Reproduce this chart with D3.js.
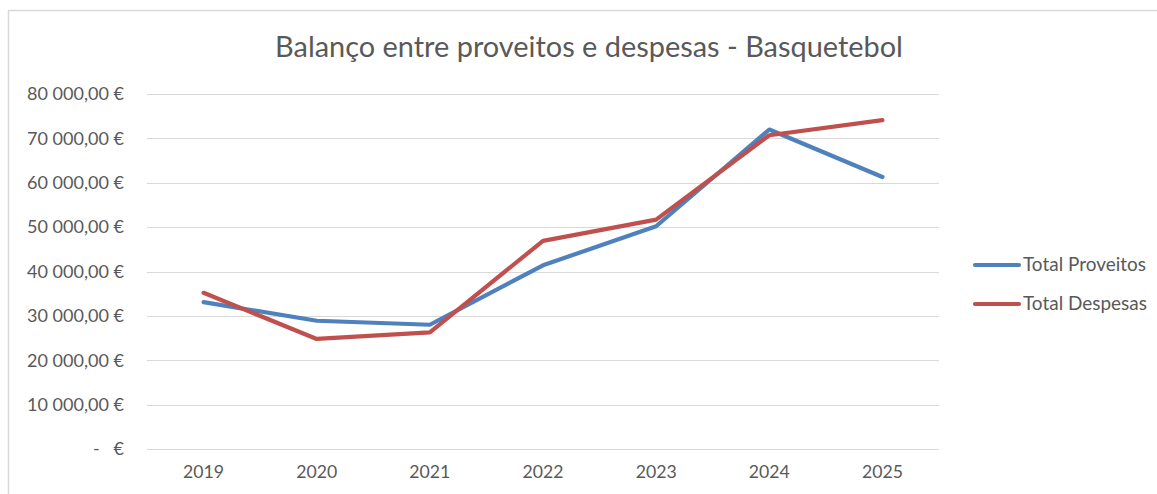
<!DOCTYPE html>
<html><head><meta charset="utf-8">
<script src="https://cdn.jsdelivr.net/npm/d3@7"></script>
<style>html,body{margin:0;padding:0;background:#fff;overflow:hidden}text{font-family:"Lato","Open Sans",sans-serif;fill:#595959}</style>
</head><body><svg id="c" width="1157" height="494"></svg>
<script>
const years = ["2019","2020","2021","2022","2023","2024","2025"];
const proveitos = [33100, 28900, 28000, 41400, 50200, 72000, 61300];
const despesas = [35200, 24800, 26300, 46900, 51700, 70700, 74100];
const yTicks = [0,10000,20000,30000,40000,50000,60000,70000,80000];
const seriesNames = ["Total Proveitos","Total Despesas"];
const colors = ["#4f81bd","#c0504d"];
const title = "Balanço entre proveitos e despesas - Basquetebol";

const svg = d3.select("#c");
svg.append("rect").attr("x",8.5).attr("y",10.5).attr("width",1170).attr("height",500)
  .attr("fill","#fff").attr("stroke","#d9d9d9").attr("stroke-width",1.5);

const x = d3.scaleBand().domain(years).range([147,939]);
const y = d3.scaleLinear().domain([0,80000]).range([449,94]);

const fmt = v => v===0 ? "-   €" : d3.format(",.2f")(v).replace(/,/g," ").replace(".",",")+" €";

function fitSize(sample, target, base){
  const t = svg.append("text").style("font-size",base+"px").text(sample);
  const w = t.node().getComputedTextLength(); t.remove();
  return (base*target/w).toFixed(2)+"px";
}

svg.selectAll(".grid").data(yTicks).join("line")
  .attr("x1",147).attr("x2",939)
  .attr("y1",d=>Math.round(y(d))+0.5).attr("y2",d=>Math.round(y(d))+0.5)
  .attr("stroke","#d9d9d9").attr("stroke-width",1.2);

const ySize = fitSize("80 000,00 €", 97, 16);
const yAxis = d3.axisLeft(y).tickValues(yTicks).tickFormat(fmt).tickSize(0).tickPadding(0);
const ya = svg.append("g").attr("transform","translate(124,0)").call(yAxis);
ya.select(".domain").remove();
ya.selectAll("text").style("font-size",ySize).attr("fill","#595959").attr("font-family",null).style("white-space","pre");

const xSize = fitSize("2019", 41, 16);
const xAxis = d3.axisBottom(x).tickSize(0).tickPadding(0);
const xa = svg.append("g").attr("transform","translate(0,465)").call(xAxis);
xa.select(".domain").remove();
xa.selectAll("text").style("font-size",xSize).attr("fill","#595959").attr("font-family",null);

const line = d3.line().x((d,i)=>x(years[i])+x.bandwidth()/2).y(d=>y(d));
[proveitos, despesas].forEach((s,i)=>{
  svg.append("path").attr("d",line(s)).attr("fill","none").attr("stroke",colors[i])
    .attr("stroke-width",4.2).attr("stroke-linecap","round").attr("stroke-linejoin","round");
});

svg.append("text").attr("x",589).attr("y",57).attr("text-anchor","middle")
  .style("font-size",fitSize(title,628,24)).text(title);

const lSize = fitSize("Total Proveitos", 123, 16);
const leg = svg.append("g");
seriesNames.forEach((n,i)=>{
  const ly = 265 + i*39;
  leg.append("line").attr("x1",975).attr("x2",1019).attr("y1",ly).attr("y2",ly)
    .attr("stroke",colors[i]).attr("stroke-width",4.2).attr("stroke-linecap","round");
  leg.append("text").attr("x",1023).attr("y",ly+6).style("font-size",lSize).text(n);
});
</script></body></html>
